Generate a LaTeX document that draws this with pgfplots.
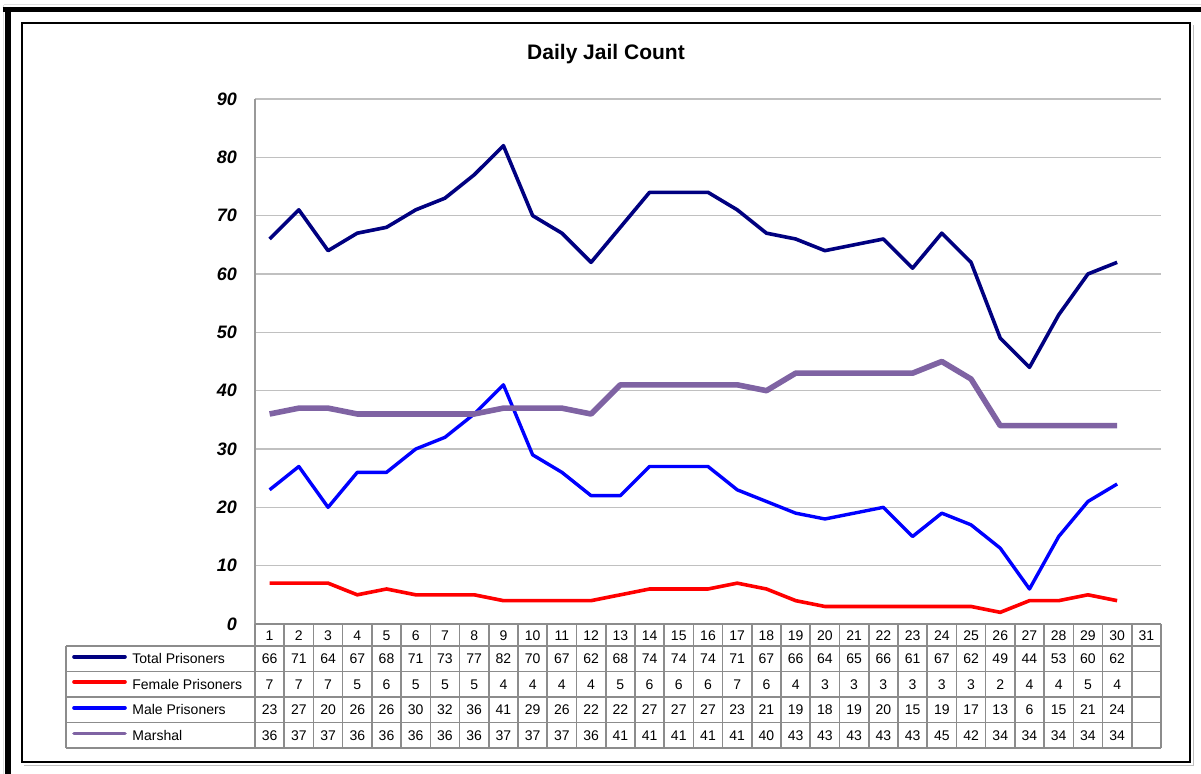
\documentclass[border=0pt]{standalone}
\usepackage{fontspec}
\setmainfont{Liberation Sans}
\usepackage{pgfplots}
\usepackage{pgfplotstable}
\pgfplotsset{compat=1.18}
\definecolor{navyline}{RGB}{0,0,128}
\definecolor{marshal}{RGB}{127,99,163}
\definecolor{gridgray}{RGB}{192,192,192}
\definecolor{tablegray}{RGB}{140,140,140}

\pgfplotstableread{
day total female male marshal
1 66 7 23 36
2 71 7 27 37
3 64 7 20 37
4 67 5 26 36
5 68 6 26 36
6 71 5 30 36
7 73 5 32 36
8 77 5 36 36
9 82 4 41 37
10 70 4 29 37
11 67 4 26 37
12 62 4 22 36
13 68 5 22 41
14 74 6 27 41
15 74 6 27 41
16 74 6 27 41
17 71 7 23 41
18 67 6 21 40
19 66 4 19 43
20 64 3 18 43
21 65 3 19 43
22 66 3 20 43
23 61 3 15 43
24 67 3 19 45
25 62 3 17 42
26 49 2 13 34
27 44 4 6 34
28 53 4 15 34
29 60 5 21 34
30 62 4 24 34
}\jaildata

\begin{document}
\begin{tikzpicture}
\path[use as bounding box] (0,0) rectangle (600.5pt,387pt);

% frames (pixel coordinates, y downward)
\begin{scope}[x=0.5pt,y=-0.5pt,yshift=387pt]
  \draw[black!12,line width=0.5pt] (4,5) -- (1201,5);
  \draw[black!12,line width=0.5pt] (3,5) -- (3,774);
  \draw[black,line width=2.75pt] (2.5,9.5) -- (1201,9.5);
  \draw[black,line width=2.75pt] (8,7) -- (8,774);
  \draw[black!25,line width=0.5pt] (24,766) -- (1193,766) -- (1193,25);
  \draw[black,line width=1.1pt] (22,23) rectangle (1190,762);
  \node[font=\bfseries\fontsize{10.5}{12}\selectfont] at (606,54) {Daily Jail Count};
\end{scope}

\begin{axis}[
  at={(127.5pt,75pt)}, anchor=south west,
  scale only axis, width=453pt, height=262.5pt,
  xmin=0.5, xmax=31.5, ymin=0, ymax=90,
  ytick={0,10,...,90}, xtick=\empty,
  ymajorgrids, grid style={gridgray, line width=0.6pt},
  axis line style={draw=none},
  major tick length=0pt,
  /pgf/number format/assume math mode=true,
  yticklabel style={font=\bfseries\itshape\fontsize{9}{10}\selectfont, anchor=east, xshift=-5.5pt},
  clip=false,
]
\addplot[navyline, line width=1.8pt, line join=round] table[x=day,y=total] {\jaildata};
\addplot[red, line width=1.8pt, line join=round] table[x=day,y=female] {\jaildata};
\addplot[blue, line width=1.7pt, line join=round] table[x=day,y=male] {\jaildata};
\addplot[marshal, line width=2.8pt, line join=round] table[x=day,y=marshal] {\jaildata};
\end{axis}

% data table
\begin{scope}[x=0.5pt,y=-0.5pt,yshift=387pt]
  \draw[black!40,line width=0.8pt] (255,99) -- (255,624);
  \foreach \yy in {646,671.5,697,722.5,748} {
    \draw[tablegray,line width=0.8pt] (66,\yy) -- (1161,\yy);
  }
  \draw[tablegray,line width=0.8pt] (255,624) -- (1161,624);
  \draw[tablegray,line width=0.8pt] (66,646) -- (66,748);
  \foreach \j in {0,...,31} {
    \draw[tablegray,line width=0.8pt] ({255+\j*29.226},624) -- ({255+\j*29.226},748);
  }
  \foreach \j in {1,...,31} {
    \node[font=\fontsize{7}{8}\selectfont] at ({255+(\j-0.5)*29.226},636) {\j};
  }
  \foreach \col/\yc in {total/659, female/684.5, male/710, marshal/735.5} {
    \foreach \i in {0,...,29} {
      \pgfplotstablegetelem{\i}{\col}\of\jaildata
      \node[font=\fontsize{7}{8}\selectfont] at ({255+(\i+0.5)*29.226},\yc) {\pgfplotsretval};
    }
  }
  \draw[navyline,line width=1.8pt,line cap=round] (74,657) -- (125,657);
  \draw[red,line width=1.8pt,line cap=round] (74,682) -- (125,682);
  \draw[blue,line width=1.8pt,line cap=round] (74,708) -- (125,708);
  \draw[marshal,line width=1.8pt,line cap=round] (74,733.5) -- (125,733.5);
  \node[anchor=west,font=\fontsize{7}{8}\selectfont,inner sep=0pt] at (132,659) {Total Prisoners};
  \node[anchor=west,font=\fontsize{7}{8}\selectfont,inner sep=0pt] at (132,684.5) {Female Prisoners};
  \node[anchor=west,font=\fontsize{7}{8}\selectfont,inner sep=0pt] at (132,710) {Male Prisoners};
  \node[anchor=west,font=\fontsize{7}{8}\selectfont,inner sep=0pt] at (132,735.5) {Marshal};
\end{scope}
\end{tikzpicture}
\end{document}
